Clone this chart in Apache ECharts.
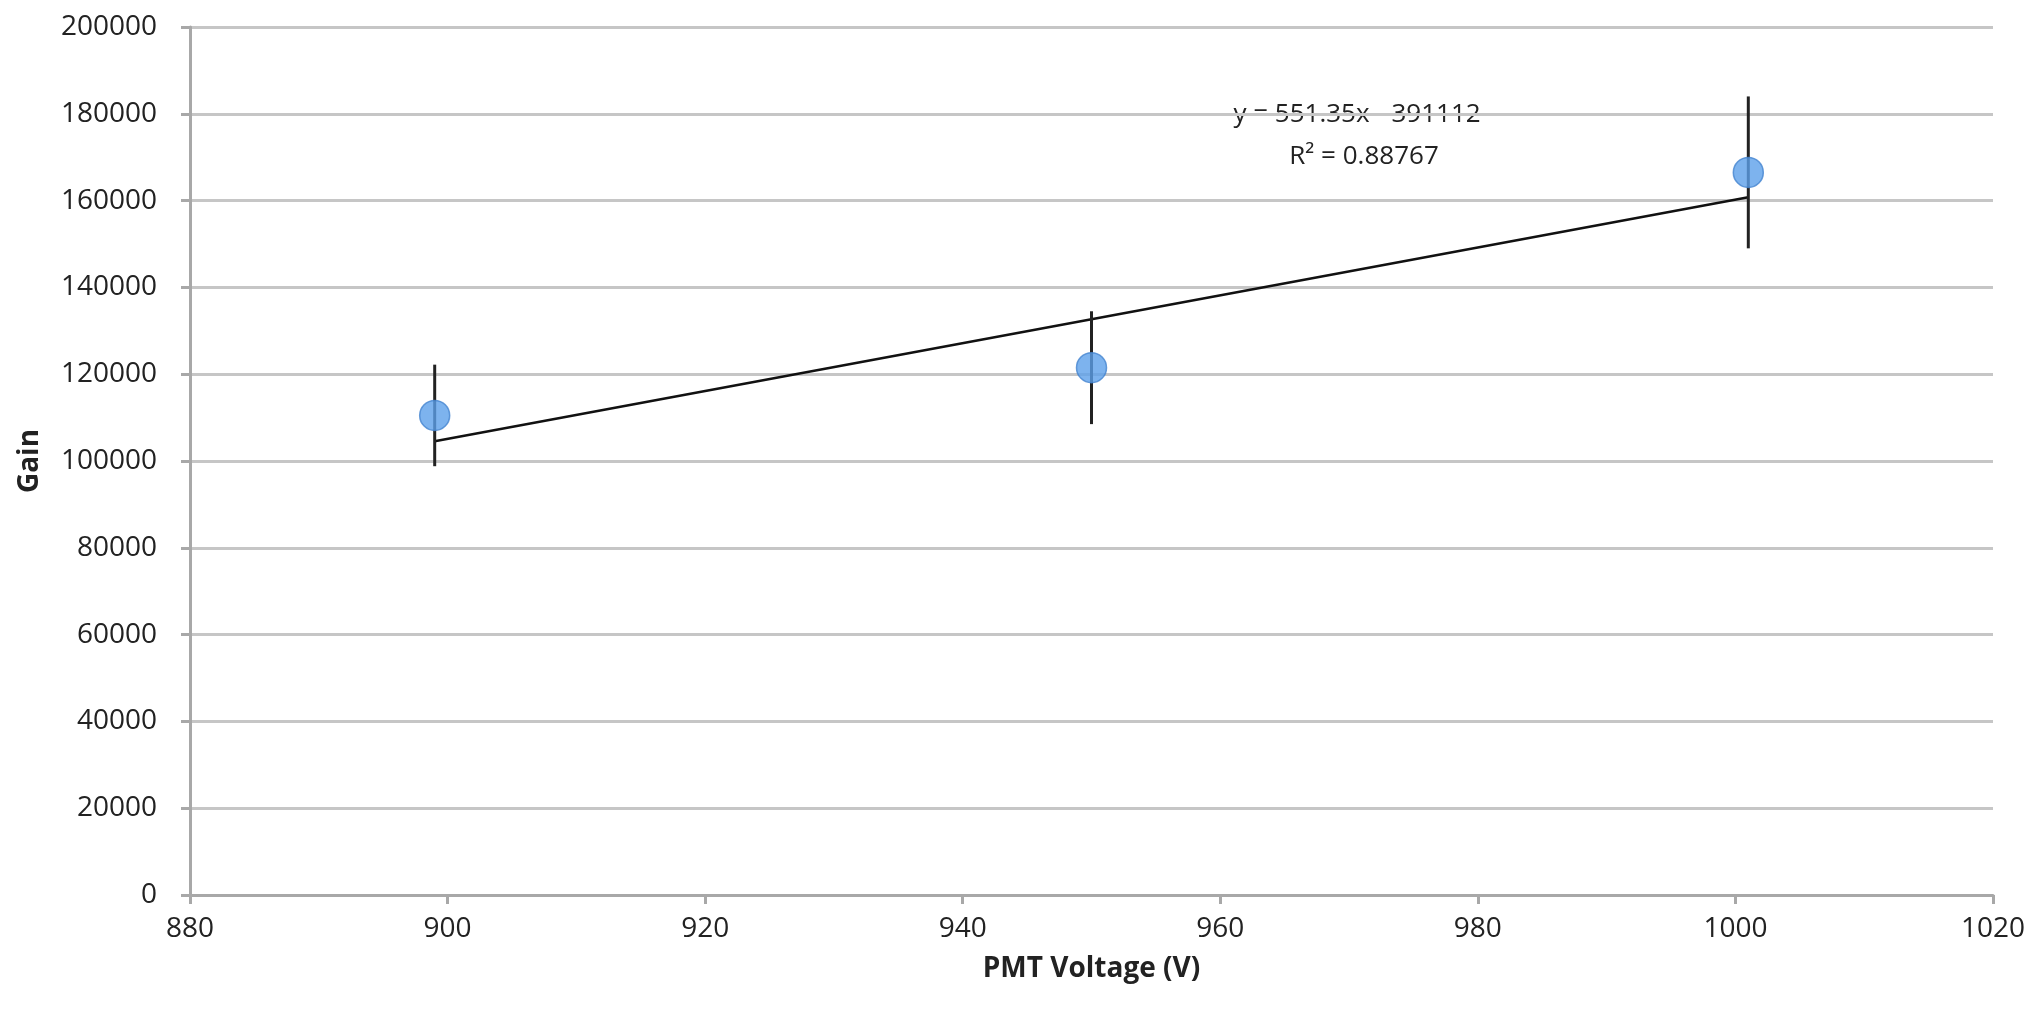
<!DOCTYPE html>
<html>
<head>
<meta charset="utf-8">
<script src="https://cdn.jsdelivr.net/npm/echarts@6/dist/echarts.min.js"></script>
<style>
  html, body { margin: 0; padding: 0; background: #fff; }
  #chart { width: 2033px; height: 1011px; }
</style>
</head>
<body>
<div id="chart"></div>
<script>
// measured points (voltage, gain) and their error half-widths
const voltage = [899, 950, 1001];
const gain = [110500, 121500, 166500];
const gainErr = [11700, 13000, 17500];

// linear trend line end points, as drawn
const trendX = [899, 1001];
const trendY = [104550, 160790];

const eqText = 'y = 551.35x - 391112';
const r2Text = 'R\u00B2 = 0.88767';

const font = 'Open Sans';

const chart = echarts.init(document.getElementById('chart'));

let points = [];
let bars = [];
for (let i = 0; i < voltage.length; i++) {
  points.push([voltage[i], gain[i]]);
  bars.push([voltage[i], gain[i] - gainErr[i], gain[i] + gainErr[i]]);
}
let trend = [];
for (let i = 0; i < trendX.length; i++) {
  trend.push([trendX[i], trendY[i]]);
}

chart.setOption({
  animation: false,
  backgroundColor: '#fff',
  grid: {
    left: 190,
    right: 40,
    top: 27,
    bottom: 116
  },
  xAxis: {
    type: 'value',
    min: 880,
    max: 1020,
    interval: 20,
    name: 'PMT Voltage (V)',
    nameLocation: 'middle',
    nameGap: 60,
    nameTextStyle: { fontFamily: font, fontSize: 28, fontWeight: 'bold', color: '#222' },
    axisLine: { lineStyle: { color: '#a8a8a8', width: 3 } },
    axisTick: { show: true, length: 9, lineStyle: { color: '#a8a8a8', width: 3 } },
    axisLabel: { fontFamily: font, fontSize: 28, color: '#222', margin: 20, formatter: v => String(v) },
    splitLine: { show: false }
  },
  yAxis: {
    type: 'value',
    min: 0,
    max: 200000,
    interval: 20000,
    name: 'Gain',
    nameLocation: 'middle',
    nameRotate: 90,
    nameGap: 146,
    nameTextStyle: { fontFamily: font, fontSize: 28, fontWeight: 'bold', color: '#222' },
    axisLine: { show: true, lineStyle: { color: '#a8a8a8', width: 3 } },
    axisTick: { show: true, length: 9, lineStyle: { color: '#a8a8a8', width: 3 } },
    axisLabel: { fontFamily: font, fontSize: 28, color: '#222', margin: 33, formatter: v => String(v) },
    splitLine: { show: true, lineStyle: { color: '#c6c6c6', width: 3 } }
  },
  series: [
    {
      name: 'trend',
      type: 'line',
      data: trend,
      symbol: 'none',
      lineStyle: { color: '#111', width: 2.5 },
      z: 3
    },
    {
      name: 'error',
      type: 'custom',
      data: bars,
      renderItem: function (params, api) {
        const lo = api.coord([api.value(0), api.value(1)]);
        const hi = api.coord([api.value(0), api.value(2)]);
        return {
          type: 'line',
          shape: { x1: lo[0], y1: lo[1], x2: hi[0], y2: hi[1] },
          style: { stroke: '#222', lineWidth: 3 }
        };
      },
      z: 4
    },
    {
      name: 'gain',
      type: 'scatter',
      data: points,
      symbol: 'circle',
      symbolSize: 30,
      itemStyle: { color: '#5da0ea', borderColor: '#4585d0', borderWidth: 1.5 },
      z: 5
    }
  ],
  graphic: [
    {
      type: 'text',
      x: 1357,
      y: 115,
      style: {
        text: eqText,
        fontFamily: font,
        fontSize: 26,
        fill: '#222',
        align: 'center',
        verticalAlign: 'middle'
      }
    },
    {
      type: 'text',
      x: 1364,
      y: 157,
      style: {
        text: r2Text,
        fontFamily: font,
        fontSize: 26,
        fill: '#222',
        align: 'center',
        verticalAlign: 'middle'
      }
    }
  ]
});
</script>
</body>
</html>
